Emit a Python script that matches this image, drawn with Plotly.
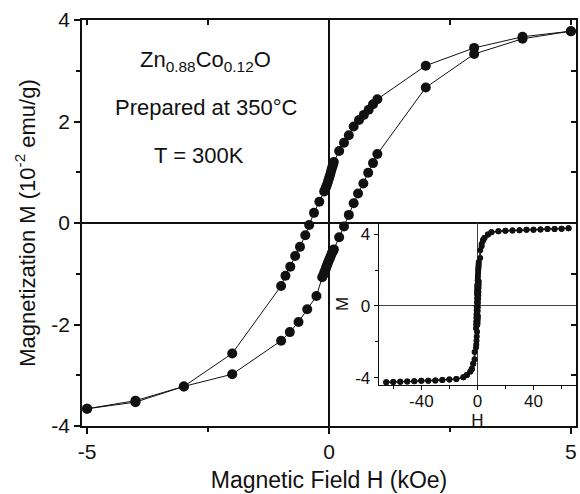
import plotly.graph_objects as go

# Hysteresis loop of Zn0.88Co0.12O at 300 K (field in kOe, M in 10^-2 emu/g)
# Branch measured while decreasing the field from +5 kOe
H_down = [5.0, 4.0, 3.0, 2.0, 1.0, 0.91, 0.82, 0.72, 0.62, 0.51, 0.41, 0.31, 0.21,
          0.10, 0.08, 0.06, 0.04, 0.02, 0.00, -0.02, -0.04, -0.06, -0.08, -0.10,
          -0.20, -0.31, -0.41, -0.49, -0.60, -0.70, -0.80, -0.90, -0.99,
          -2.0, -3.0, -4.0, -5.0]
M_down = [3.78, 3.67, 3.45, 3.10, 2.44, 2.34, 2.23, 2.13, 2.03, 1.90, 1.73, 1.58, 1.42,
          1.20, 1.14, 1.08, 1.01, 0.94, 0.88, 0.82, 0.76, 0.71, 0.66, 0.62,
          0.42, 0.20, -0.04, -0.24, -0.47, -0.65, -0.86, -1.04, -1.24,
          -2.57, -3.22, -3.53, -3.66]

# Branch measured while increasing the field from -5 kOe
H_up = [-5.0, -4.0, -3.0, -2.0, -0.99, -0.81, -0.63, -0.45, -0.26,
        -0.14, -0.12, -0.10, -0.08, -0.06, -0.04, -0.02, 0.00, 0.02, 0.04, 0.06, 0.08, 0.10,
        0.21, 0.31, 0.41, 0.51, 0.60, 0.71, 0.81, 0.91, 1.00, 2.0, 3.0, 4.0, 5.0]
M_up = [-3.66, -3.50, -3.22, -2.98, -2.32, -2.15, -1.95, -1.70, -1.44,
        -1.07, -1.03, -0.98, -0.93, -0.88, -0.83, -0.78, -0.73, -0.69, -0.64, -0.59, -0.56, -0.52,
        -0.28, -0.07, 0.16, 0.39, 0.58, 0.78, 0.99, 1.18, 1.36, 2.67, 3.33, 3.63, 3.78]

# High-field part of the loop, shown in the inset together with the data above
H_high_pos = [7.5, 10, 15, 20, 25, 30, 35, 40, 45, 50, 55, 60, 65]
M_high_pos = [3.98, 4.10, 4.16, 4.19, 4.20, 4.22, 4.24, 4.25, 4.26, 4.28, 4.29, 4.30, 4.33]
H_high_neg = [-65, -60, -55, -50, -45, -40, -35, -30, -25, -20, -15, -10, -7.5]
M_high_neg = [-4.26, -4.24, -4.23, -4.21, -4.20, -4.18, -4.17, -4.16, -4.13, -4.10, -4.08, -3.98, -3.85]

# Tick labels
main_x_ticks = [-5, 0, 5]
main_x_text = ["-5", "0", "5"]
main_y_ticks = [-4, -2, 0, 2, 4]
main_y_text = ["-4", "-2", "0", "2", "4"]
inset_x_ticks = [-40, 0, 40]
inset_x_text = ["-40", "0", "40"]
inset_y_ticks = [-4, 0, 4]
inset_y_text = ["-4", "0", "4"]

FONT = "Liberation Sans, Arial, sans-serif"
INK = "#111111"

fig = go.Figure()

for hx, my in ((H_down, M_down), (H_up, M_up)):
    fig.add_trace(go.Scatter(
        x=hx, y=my, mode="lines+markers", xaxis="x", yaxis="y",
        line=dict(color=INK, width=1),
        marker=dict(color=INK, size=10),
        showlegend=False, hoverinfo="skip"))

# Full loop for the inset: down from +65 kOe to -65 kOe and back up
inset_H = H_high_pos[::-1] + H_down + H_high_neg[::-1] + H_high_neg + H_up + H_high_pos
inset_M = M_high_pos[::-1] + M_down + M_high_neg[::-1] + M_high_neg + M_up + M_high_pos
fig.add_trace(go.Scatter(
    x=inset_H, y=inset_M, mode="lines+markers", xaxis="x2", yaxis="y2",
    line=dict(color=INK, width=1),
    marker=dict(color=INK, size=6),
    showlegend=False, hoverinfo="skip"))

# carrier for the inward-pointing ticks on the top and right frame
fig.add_trace(go.Scatter(x=[None], y=[None], xaxis="x3", yaxis="y3",
                         showlegend=False, hoverinfo="skip"))

xr = [-5.105, 5.105]
yr = [-4, 4]

fig.update_layout(
    width=580, height=494,
    margin=dict(l=82, r=2, t=20, b=68),
    paper_bgcolor="white", plot_bgcolor="rgba(0,0,0,0)",
    font=dict(family=FONT, color=INK),
    xaxis=dict(
        domain=[0, 1], range=xr, anchor="y",
        showline=True, mirror=True, linecolor=INK, linewidth=1.5,
        showgrid=False, zeroline=True, zerolinecolor=INK, zerolinewidth=1.5,
        ticks="outside", tickvals=main_x_ticks, ticktext=main_x_text,
        ticklen=6, tickwidth=1.5, tickcolor=INK,
        minor=dict(tickvals=[-2.5, 2.5], ticks="outside", ticklen=4, tickwidth=1.5, tickcolor=INK),
        tickfont=dict(size=21),
        title=dict(text="Magnetic Field H (kOe)", font=dict(size=23), standoff=10),
    ),
    yaxis=dict(
        domain=[0, 1], range=yr, anchor="x",
        showline=True, mirror=True, linecolor=INK, linewidth=1.5,
        showgrid=False, zeroline=True, zerolinecolor=INK, zerolinewidth=1.5,
        ticks="outside", tickvals=main_y_ticks, ticktext=main_y_text,
        ticklen=6, tickwidth=1.5, tickcolor=INK,
        minor=dict(tickvals=[-3, -1, 1, 3], ticks="outside", ticklen=4, tickwidth=1.5, tickcolor=INK),
        tickfont=dict(size=21),
        title=dict(text="Magnetization M (10<sup>-2</sup> emu/g)", font=dict(size=22), standoff=10),
    ),
    xaxis3=dict(
        overlaying="x", side="top", anchor="y3", range=xr,
        showline=False, showgrid=False, zeroline=False, showticklabels=False,
        ticks="inside", tickvals=[-5, -2.5, 0, 2.5, 5], ticklen=5, tickwidth=1.5, tickcolor=INK,
    ),
    yaxis3=dict(
        overlaying="y", side="right", anchor="x3", range=yr,
        showline=False, showgrid=False, zeroline=False, showticklabels=False,
        ticks="inside", tickvals=[-4, -3, -2, -1, 0, 1, 2, 3, 4], ticklen=5, tickwidth=1.5, tickcolor=INK,
    ),
    xaxis2=dict(
        domain=[0.6008, 1.0], range=[-70.3, 70.3], anchor="y2",
        showline=True, mirror=True, linecolor=INK, linewidth=1.2,
        showgrid=False, zeroline=True, zerolinecolor="#444444", zerolinewidth=1,
        ticks="outside", tickvals=inset_x_ticks, ticktext=inset_x_text,
        ticklen=4, tickwidth=1, tickcolor=INK, ticklabelstandoff=-3,
        minor=dict(tickvals=[-60, -20, 20, 60], ticks="outside", ticklen=3, tickwidth=1, tickcolor=INK),
        tickfont=dict(size=17),
        title=dict(text="H", font=dict(size=17), standoff=0),
    ),
    yaxis2=dict(
        domain=[0.101, 0.5], range=[-4.41, 4.62], anchor="x2",
        showline=True, mirror=True, linecolor=INK, linewidth=1.2,
        showgrid=False, zeroline=True, zerolinecolor="#444444", zerolinewidth=1,
        ticks="outside", tickvals=inset_y_ticks, ticktext=inset_y_text,
        ticklen=4, tickwidth=1, tickcolor=INK,
        minor=dict(tickvals=[-2, 2], ticks="outside", ticklen=3, tickwidth=1, tickcolor=INK),
        tickfont=dict(size=17),
        title=dict(text="M", font=dict(size=17), standoff=2),
    ),
    annotations=[
        dict(text="Zn<sub>0.88</sub>Co<sub>0.12</sub>O", x=-2.56, y=3.2, xref="x", yref="y",
             showarrow=False, font=dict(size=22), xanchor="center", yanchor="middle"),
        dict(text="Prepared at 350°C", x=-2.54, y=2.27, xref="x", yref="y",
             showarrow=False, font=dict(size=22), xanchor="center", yanchor="middle"),
        dict(text="T = 300K", x=-2.69, y=1.34, xref="x", yref="y",
             showarrow=False, font=dict(size=22), xanchor="center", yanchor="middle"),
    ],
)

fig.write_html("out.html")
